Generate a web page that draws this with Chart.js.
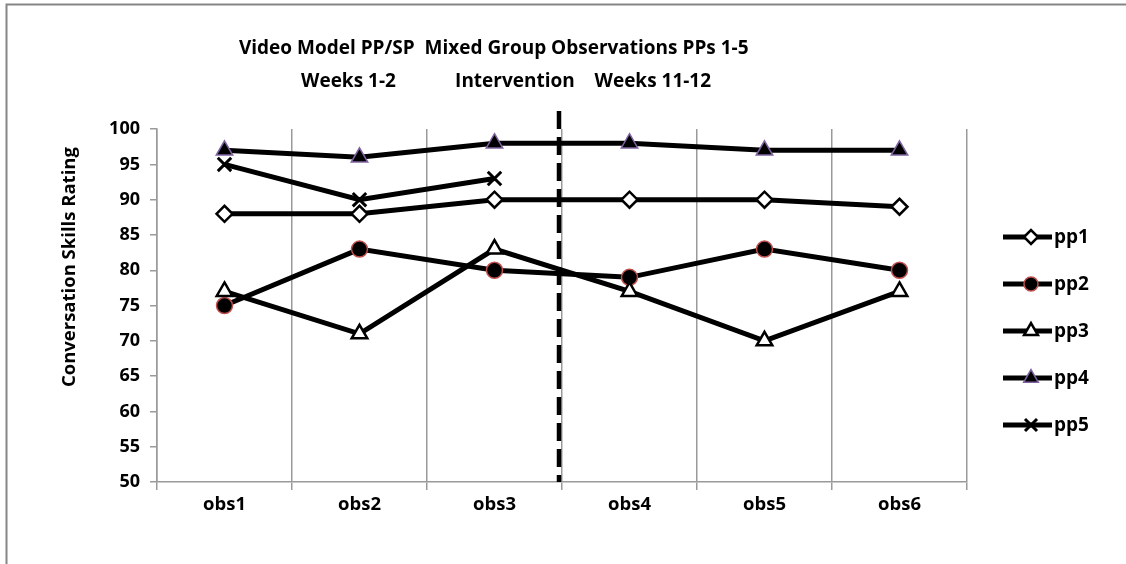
<!DOCTYPE html>
<html>
<head>
<meta charset="utf-8">
<script src="https://cdn.jsdelivr.net/npm/chart.js@4.4.1/dist/chart.umd.min.js"></script>
<style>
  html, body { margin: 0; background: #fff; }
  #wrap { width: 1126px; height: 564px; }
</style>
</head>
<body>
<div id="wrap"><canvas id="obsChart" width="1126" height="564"></canvas></div>
<script>
// values
const labels = ['obs1', 'obs2', 'obs3', 'obs4', 'obs5', 'obs6'];
const pp1 = [88, 88, 90, 90, 90, 89];
const pp2 = [75, 83, 80, 79, 83, 80];
const pp3 = [77, 71, 83, 77, 70, 77];
const pp4 = [97, 96, 98, 98, 97, 97];
const pp5 = [95, 90, 93, null, null, null];
const seriesNames = ['pp1', 'pp2', 'pp3', 'pp4', 'pp5'];
const yTicks = [50, 55, 60, 65, 70, 75, 80, 85, 90, 95, 100];
// spaces kept as in the original title
const titleLines = [
  'Video Model PP/SP  Mixed Group Observations PPs 1-5       ',
  'Weeks 1-2            Intervention    Weeks 11-12  '
];
const yTitle = '                Conversation Skills Rating';
const phaseBreakAfter = 'obs3';

const FONT = '"Open Sans", sans-serif';
const GRID = '#9a9a9a';

// frame line at top and left like the original picture
const framePlugin = {
  id: 'frame',
  beforeDraw(chart) {
    const ctx = chart.ctx;
    ctx.save();
    ctx.fillStyle = '#fff';
    ctx.fillRect(0, 0, chart.width, chart.height);
    ctx.strokeStyle = '#868686';
    ctx.lineWidth = 2;
    ctx.beginPath();
    ctx.moveTo(6.5, chart.height);
    ctx.lineTo(6.5, 4.5);
    ctx.lineTo(chart.width, 4.5);
    ctx.stroke();
    ctx.restore();
  }
};

// dashed phase line between obs3 and obs4
const phaseLinePlugin = {
  id: 'phaseLine',
  beforeDatasetsDraw(chart) {
    const x = chart.scales.x;
    const i = labels.indexOf(phaseBreakAfter);
    const px = (x.getPixelForValue(i) + x.getPixelForValue(i + 1)) / 2 - 3;
    const ctx = chart.ctx;
    ctx.save();
    ctx.strokeStyle = '#000';
    ctx.lineWidth = 4.5;
    ctx.setLineDash([18, 8]);
    ctx.beginPath();
    ctx.moveTo(px, chart.chartArea.top - 18);
    ctx.lineTo(px, chart.chartArea.bottom);
    ctx.stroke();
    ctx.restore();
  }
};

// legend: line with marker, like Excel
const sideLegendPlugin = {
  id: 'sideLegend',
  afterDraw(chart) {
    const ctx = chart.ctx;
    const x0 = 1003, x1 = 1052, top = 237, step = 47;
    chart.data.datasets.forEach((ds, i) => {
      const y = top + i * step;
      ctx.save();
      ctx.strokeStyle = '#000';
      ctx.lineWidth = 5;
      ctx.beginPath();
      ctx.moveTo(x0, y);
      ctx.lineTo(x1, y);
      ctx.stroke();
      ctx.fillStyle = ds.pointBackgroundColor;
      ctx.strokeStyle = ds.pointBorderColor;
      ctx.lineWidth = ds.pointBorderWidth;
      Chart.helpers.drawPoint(ctx, {
        pointStyle: ds.pointStyle,
        radius: ds.pointRadius - 1,
        borderWidth: ds.pointBorderWidth
      }, 1031, y);
      ctx.fillStyle = '#000';
      ctx.font = 'bold 19px ' + FONT;
      ctx.textBaseline = 'middle';
      ctx.textAlign = 'left';
      ctx.fillText(ds.label, x1 + 2, y + 1);
      ctx.restore();
    });
  }
};

const lineBase = {
  borderColor: '#000',
  borderWidth: 5,
  tension: 0,
  spanGaps: false,
  pointHoverRadius: 9
};

new Chart(document.getElementById('obsChart'), {
  type: 'line',
  data: {
    labels,
    datasets: [
      { ...lineBase, label: seriesNames[0], data: pp1, order: 4,
        pointStyle: 'rectRot', pointRadius: 8, pointBackgroundColor: '#fff', pointBorderColor: '#000', pointBorderWidth: 2.5 },
      { ...lineBase, label: seriesNames[1], data: pp2, order: 3,
        pointStyle: 'circle', pointRadius: 8, pointBackgroundColor: '#000', pointBorderColor: '#C0504D', pointBorderWidth: 1.5 },
      { ...lineBase, label: seriesNames[2], data: pp3, order: 2,
        pointStyle: 'triangle', pointRadius: 9, pointBackgroundColor: '#fff', pointBorderColor: '#000', pointBorderWidth: 2.5 },
      { ...lineBase, label: seriesNames[3], data: pp4, order: 1,
        pointStyle: 'triangle', pointRadius: 9.5, pointBackgroundColor: '#000', pointBorderColor: '#7F63A1', pointBorderWidth: 1.5 },
      { ...lineBase, label: seriesNames[4], data: pp5, order: 0,
        pointStyle: 'crossRot', pointRadius: 9.5, pointBackgroundColor: '#000', pointBorderColor: '#000', pointBorderWidth: 3 }
    ]
  },
  options: {
    responsive: false,
    animation: false,
    layout: { padding: { left: 55, right: 159, top: 0, bottom: 0 } },
    plugins: {
      legend: { display: false },
      tooltip: { enabled: false },
      title: {
        display: true,
        text: titleLines,
        color: '#000',
        font: { family: FONT, size: 19, weight: 'bold', lineHeight: 1.74 },
        padding: { top: 32, bottom: 31 }
      }
    },
    scales: {
      x: {
        offset: true,
        grid: { offset: true, color: GRID, lineWidth: 1.5, tickLength: 8 },
        border: { color: GRID, width: 1.5 },
        ticks: { color: '#000', font: { family: FONT, size: 18.5, weight: 'bold' }, padding: 4 },
        afterFit(scale) { scale.height = 82; }
      },
      y: {
        min: yTicks[0],
        max: yTicks[yTicks.length - 1],
        afterBuildTicks(scale) { scale.ticks = yTicks.map(v => ({ value: v })); },
        grid: { drawOnChartArea: false, color: GRID, lineWidth: 1.5, tickLength: 7 },
        border: { color: GRID, width: 1.5 },
        ticks: { color: '#000', font: { family: FONT, size: 18, weight: 'bold' }, padding: 10 },
        title: {
          display: true,
          text: yTitle,
          color: '#000',
          font: { family: FONT, size: 18.5, weight: 'bold' }
        },
        afterFit(scale) { scale.width = 102; }
      }
    }
  },
  plugins: [framePlugin, phaseLinePlugin, sideLegendPlugin]
});
</script>
</body>
</html>
